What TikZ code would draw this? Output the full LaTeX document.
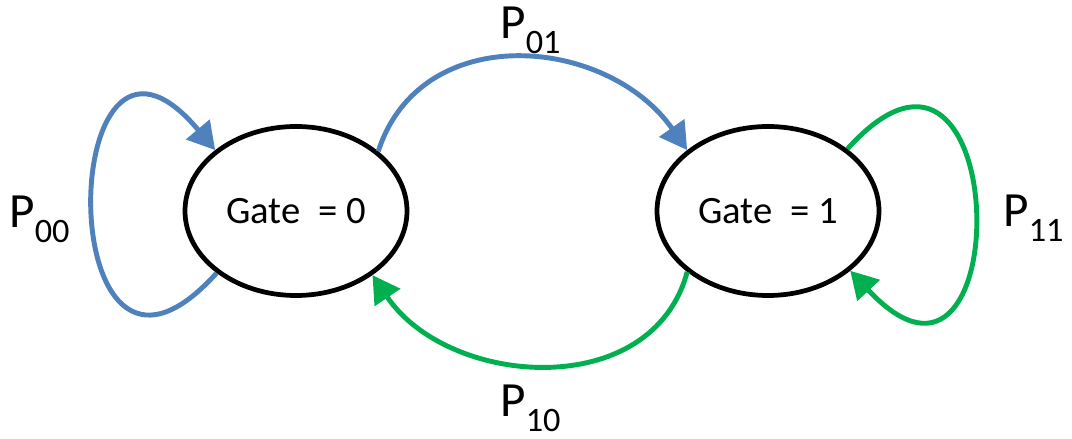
\documentclass[tikz,border=0pt]{standalone}
\usepackage{fontspec}
\setmainfont{Carlito}
\usetikzlibrary{arrows.meta,shapes.geometric}
\definecolor{gateblue}{HTML}{4F81BD}
\definecolor{gategreen}{HTML}{00B050}
\newcommand{\plab}[1]{P\raisebox{-8pt}{\fontsize{19.5pt}{20pt}\selectfont #1}}

\begin{document}
\begin{tikzpicture}[
    >={Triangle[length=5.4mm, width=6mm]},
    state/.style={ellipse, draw=black, line width=2.7pt, minimum width=44.4mm, minimum height=33.8mm, inner sep=0pt, font=\fontsize{22pt}{24pt}\selectfont},
    plabel/.style={anchor=base west, inner sep=0pt, font=\fontsize{28pt}{30pt}\selectfont},
    blueflow/.style={->, line width=2.8pt, draw=gateblue},
    greenflow/.style={->, line width=2.8pt, draw=gategreen},
]
    \useasboundingbox (0, 0) rectangle (21.44, 8.78);

    % =====================================================================
    % STATES
    % =====================================================================
    \node[state] (g0) at (5.92, 4.56) {Gate\ \ = 0};
    \node[state] (g1) at (15.36, 4.56) {Gate\ \ = 1};

    % =====================================================================
    % TRANSITIONS
    % =====================================================================
    % Self loops
    \draw[blueflow] (g0.218) to[out=228, in=130, looseness=5.2] (g0.143);
    \draw[greenflow] (g1.38) to[out=48, in=-47, looseness=5.2] (g1.324);

    % Switching
    \draw[blueflow] (g0.36) to[out=72, in=125, looseness=1.15] (g1.143);
    \draw[greenflow] (g1.217) to[out=255, in=304, looseness=1.1] (g0.320);

    % Probabilities
    \node[plabel] (p00) at (0.18, 4.22) {\plab{00}};
    \node[plabel] (p01) at (10.0, 8.0) {\plab{01}};
    \node[plabel] (p10) at (10.0, 0.44) {\plab{10}};
    \node[plabel] (p11) at (20.06, 4.24) {\plab{11}};

\end{tikzpicture}
\end{document}
